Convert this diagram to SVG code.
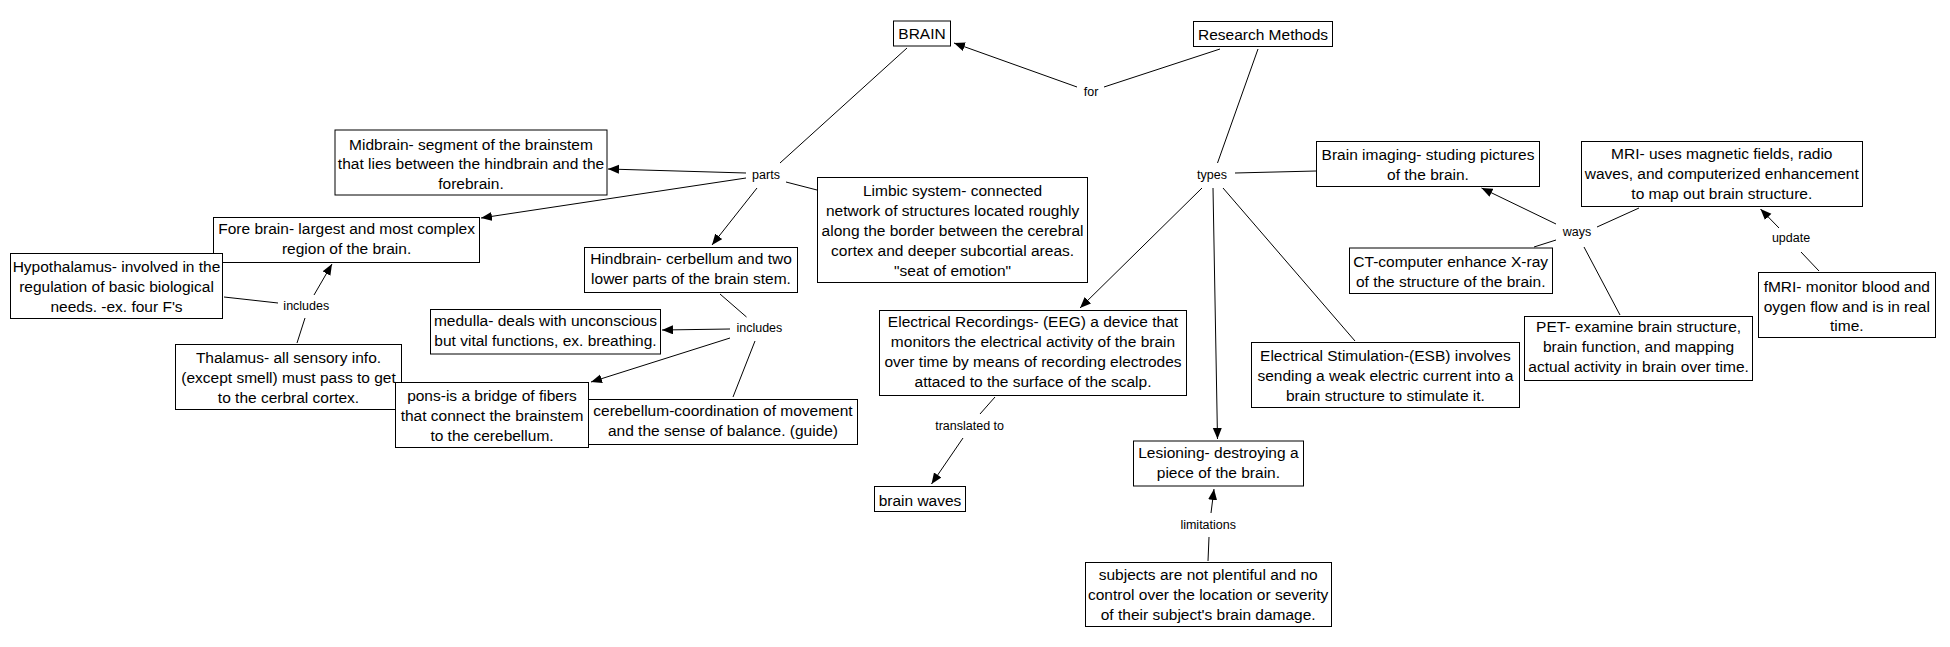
<svg xmlns="http://www.w3.org/2000/svg" width="1950" height="647" viewBox="0 0 1950 647">
<style>
.box{fill:#fff;stroke:#000;stroke-width:1}
.t{font-family:"Liberation Sans",Arial,sans-serif;font-size:15.5px;fill:#000;text-anchor:middle}
.l{font-family:"Liberation Sans",Arial,sans-serif;font-size:12.5px;fill:#000;text-anchor:middle}
.c line{stroke:#000;stroke-width:1}
.c line.a{marker-end:url(#arr)}
</style>
<defs>
<marker id="arr" markerWidth="12" markerHeight="10" refX="11" refY="4.5" orient="auto" markerUnits="userSpaceOnUse">
<path d="M0,0 L11,4.5 L0,9 z" fill="#000"/>
</marker>
</defs>
<rect width="1950" height="647" fill="#fff"/>
<g class="c" id="connectors">
<line x1="907" y1="48" x2="780" y2="163"/>
<line class="a" x1="746" y1="173" x2="608" y2="169"/>
<line class="a" x1="746" y1="178" x2="481" y2="218"/>
<line class="a" x1="757" y1="188" x2="712" y2="245"/>
<line x1="786" y1="182" x2="817" y2="190"/>
<line x1="224" y1="297" x2="278" y2="303"/>
<line class="a" x1="314" y1="295" x2="332" y2="264"/>
<line x1="297" y1="343" x2="305" y2="318"/>
<line x1="720" y1="294" x2="746.5" y2="317"/>
<line class="a" x1="730" y1="329" x2="662" y2="330"/>
<line class="a" x1="730" y1="338" x2="591" y2="382"/>
<line x1="755" y1="341" x2="733" y2="397"/>
<line x1="1220" y1="49" x2="1104" y2="87"/>
<line class="a" x1="1077" y1="87" x2="954" y2="43"/>
<line x1="1258" y1="49" x2="1217.5" y2="163"/>
<line x1="1235" y1="173" x2="1316" y2="171"/>
<line class="a" x1="1202" y1="188" x2="1080" y2="308"/>
<line class="a" x1="1213" y1="188" x2="1217.5" y2="439"/>
<line x1="1223" y1="188" x2="1355" y2="341"/>
<line x1="995" y1="397" x2="980" y2="414"/>
<line class="a" x1="963" y1="438" x2="931.5" y2="484"/>
<line x1="1208" y1="561" x2="1209" y2="537"/>
<line class="a" x1="1211" y1="513" x2="1214" y2="489"/>
<line class="a" x1="1556" y1="224" x2="1481.5" y2="188"/>
<line x1="1597" y1="227" x2="1639" y2="208"/>
<line x1="1556" y1="240" x2="1534" y2="247"/>
<line x1="1584" y1="247" x2="1620" y2="315"/>
<line class="a" x1="1779" y1="228" x2="1760.5" y2="209"/>
<line x1="1819" y1="271" x2="1801" y2="252"/>
</g>
<g id="labels">
<text class="l" x="1091" y="96">for</text>
<text class="l" x="766" y="178.5">parts</text>
<text class="l" x="306.3" y="309.8">includes</text>
<text class="l" x="759.4" y="331.8">includes</text>
<text class="l" x="1212" y="178.5">types</text>
<text class="l" x="969.6" y="430.2">translated to</text>
<text class="l" x="1208.2" y="528.8">limitations</text>
<text class="l" x="1577" y="236.2">ways</text>
<text class="l" x="1791" y="242.2">update</text>
</g>
<g id="brain"><rect class="box" x="893.5" y="21" width="57" height="25"/><text class="t" x="922" y="38.8">BRAIN</text></g>
<g id="research"><rect class="box" x="1193.5" y="21.5" width="139" height="25"/><text class="t" x="1263" y="39.5">Research Methods</text></g>
<g id="midbrain"><rect class="box" x="335" y="130" width="272" height="65"/><text class="t" x="471" y="149.5">Midbrain- segment of the brainstem</text><text class="t" x="471" y="169.2">that lies between the hindbrain and the</text><text class="t" x="471" y="188.8">forebrain.</text></g>
<g id="forebrain"><rect class="box" x="213.5" y="217.5" width="266" height="45"/><text class="t" x="346.6" y="234.2">Fore brain- largest and most complex</text><text class="t" x="346.6" y="254.2">region of the brain.</text></g>
<g id="hypothalamus"><rect class="box" x="10.5" y="253.5" width="212" height="65"/><text class="t" x="116.5" y="272.2">Hypothalamus- involved in the</text><text class="t" x="116.5" y="292.2">regulation of basic biological</text><text class="t" x="116.5" y="312.2">needs. -ex. four F's</text></g>
<g id="thalamus"><rect class="box" x="175.5" y="344.5" width="226" height="65"/><text class="t" x="288.5" y="363.2">Thalamus- all sensory info.</text><text class="t" x="288.5" y="383.2">(except smell) must pass to get</text><text class="t" x="288.5" y="403.2">to the cerbral cortex.</text></g>
<g id="pons"><rect class="box" x="395.5" y="382.5" width="193" height="65"/><text class="t" x="492" y="401.2">pons-is a bridge of fibers</text><text class="t" x="492" y="421.2">that connect the brainstem</text><text class="t" x="492" y="441.2">to the cerebellum.</text></g>
<g id="cerebellum"><rect class="box" x="588.5" y="399.5" width="269" height="45"/><text class="t" x="723" y="416.2">cerebellum-coordination of movement</text><text class="t" x="723" y="436.2">and the sense of balance. (guide)</text></g>
<g id="medulla"><rect class="box" x="430.5" y="309.5" width="230" height="44.5"/><text class="t" x="545.5" y="326.2">medulla- deals with unconscious</text><text class="t" x="545.5" y="346.2">but vital functions, ex. breathing.</text></g>
<g id="hindbrain"><rect class="box" x="584.5" y="247.5" width="213" height="45"/><text class="t" x="691" y="263.8">Hindbrain- cerbellum and two</text><text class="t" x="691" y="283.8">lower parts of the brain stem.</text></g>
<g id="limbic"><rect class="box" x="817.5" y="177.5" width="270" height="105"/><text class="t" x="952.6" y="195.5">Limbic system- connected</text><text class="t" x="952.6" y="215.5">network of structures located roughly</text><text class="t" x="952.6" y="235.5">along the border between the cerebral</text><text class="t" x="952.6" y="255.5">cortex and deeper subcortial areas.</text><text class="t" x="952.6" y="275.5">"seat of emotion"</text></g>
<g id="eeg"><rect class="box" x="879.5" y="310.5" width="307" height="85"/><text class="t" x="1033" y="327.2">Electrical Recordings- (EEG) a device that</text><text class="t" x="1033" y="347.2">monitors the electrical activity of the brain</text><text class="t" x="1033" y="367.2">over time by means of recording electrodes</text><text class="t" x="1033" y="387.2">attaced to the surface of the scalp.</text></g>
<g id="brainwaves"><rect class="box" x="874.5" y="486.5" width="91" height="25"/><text class="t" x="920" y="505.5">brain waves</text></g>
<g id="lesioning"><rect class="box" x="1133.5" y="441" width="170" height="45"/><text class="t" x="1218.4" y="458.2">Lesioning- destroying a</text><text class="t" x="1218.4" y="478.2">piece of the brain.</text></g>
<g id="subjects"><rect class="box" x="1085.5" y="562.5" width="246" height="64"/><text class="t" x="1208.2" y="579.5">subjects are not plentiful and no</text><text class="t" x="1208.2" y="599.5">control over the location or severity</text><text class="t" x="1208.2" y="619.5">of their subject's brain damage.</text></g>
<g id="esb"><rect class="box" x="1251.5" y="342.5" width="268" height="65"/><text class="t" x="1385.4" y="361.2">Electrical Stimulation-(ESB) involves</text><text class="t" x="1385.4" y="381.2">sending a weak electric current into a</text><text class="t" x="1385.4" y="401.2">brain structure to stimulate it.</text></g>
<g id="imaging"><rect class="box" x="1316.5" y="141.5" width="223" height="45"/><text class="t" x="1428" y="160.2">Brain imaging- studing pictures</text><text class="t" x="1428" y="180.2">of the brain.</text></g>
<g id="mri"><rect class="box" x="1581.5" y="141.5" width="281" height="65"/><text class="t" x="1721.8" y="158.8">MRI- uses magnetic fields, radio</text><text class="t" x="1721.8" y="178.8">waves, and computerized enhancement</text><text class="t" x="1721.8" y="198.8">to map out brain structure.</text></g>
<g id="ct"><rect class="box" x="1349.5" y="248" width="203" height="45.5"/><text class="t" x="1450.7" y="267.2">CT-computer enhance X-ray</text><text class="t" x="1450.7" y="287.2">of the structure of the brain.</text></g>
<g id="pet"><rect class="box" x="1524.5" y="316.5" width="228" height="64"/><text class="t" x="1638.6" y="332.2">PET- examine brain structure,</text><text class="t" x="1638.6" y="352.2">brain function, and mapping</text><text class="t" x="1638.6" y="372.2">actual activity in brain over time.</text></g>
<g id="fmri"><rect class="box" x="1758.5" y="272.5" width="177" height="65"/><text class="t" x="1846.8" y="291.5">fMRI- monitor blood and</text><text class="t" x="1846.8" y="311.5">oygen flow and is in real</text><text class="t" x="1846.8" y="330.8">time.</text></g>
</svg>
